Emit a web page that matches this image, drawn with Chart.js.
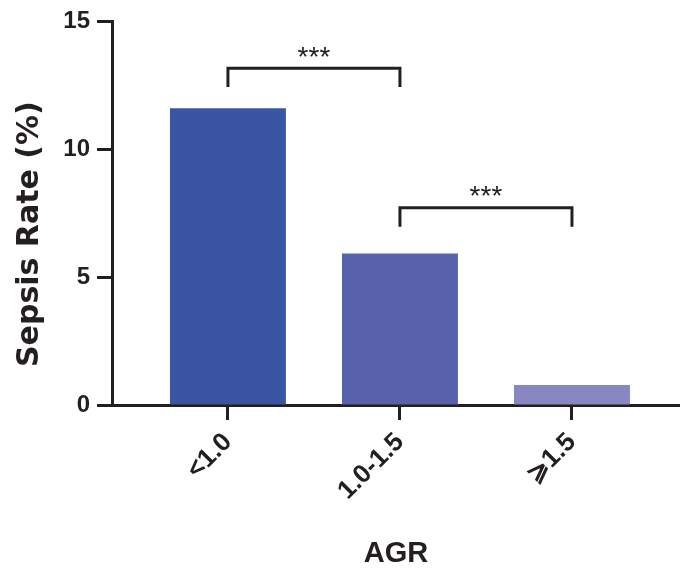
<!DOCTYPE html>
<html>
<head>
<meta charset="utf-8">
<script src="https://cdn.jsdelivr.net/npm/chart.js@4"></script>
<style>
  html, body { margin: 0; padding: 0; background: #ffffff; }
  #wrap { width: 680px; height: 571px; position: relative; }
</style>
</head>
<body>
<div id="wrap"><canvas id="c"></canvas></div>
<script>
// ---- data ----
const categories = ['<1.0', '1.0-1.5', '\u2A7E1.5'];
const sepsisRate = [11.6, 5.92, 0.78];
const barColors = ['#3A55A4', '#5861AB', '#8987C1'];
const yTicks = [0, 5, 10, 15];
const sigPairs = [[0, 1], [1, 2]];
const sigLabels = ['***', '***'];
const bracketTop = [13.17, 7.71];
const bracketLeg = [12.43, 6.97];
const starLevel = [13.71, 8.26];

const INK = '#231f20';
const FONT = "'Liberation Sans', Arial, Helvetica, sans-serif";

const barData = sepsisRate.map((v, i) => ({ x: i, y: v }));
const bracketSets = sigPairs.map((p, k) => ({
  type: 'line',
  data: [
    { x: p[0], y: bracketLeg[k] },
    { x: p[0], y: bracketTop[k] },
    { x: p[1], y: bracketTop[k] },
    { x: p[1], y: bracketLeg[k] }
  ],
  borderColor: INK,
  borderWidth: 3,
  pointRadius: 0,
  tension: 0,
  fill: false,
  borderCapStyle: 'butt',
  borderJoinStyle: 'miter'
}));

const starPlugin = {
  id: 'stars',
  afterDatasetsDraw(chart) {
    const { ctx, scales } = chart;
    const size = 28;
    ctx.save();
    ctx.fillStyle = INK;
    ctx.font = `${size}px ${FONT}`;
    ctx.textAlign = 'center';
    ctx.textBaseline = 'alphabetic';
    sigPairs.forEach((p, k) => {
      const x = scales.x.getPixelForValue((p[0] + p[1]) / 2);
      const y = scales.y.getPixelForValue(starLevel[k]) + 0.40 * size;
      ctx.fillText(sigLabels[k], x, y);
    });
    ctx.restore();
  }
};

new Chart(document.getElementById('c'), {
  type: 'bar',
  data: {
    datasets: [
      {
        type: 'bar',
        data: barData,
        backgroundColor: barColors,
        borderWidth: 0,
        barPercentage: 0.674,
        categoryPercentage: 1.0
      },
      ...bracketSets
    ]
  },
  options: {
    responsive: true,
    maintainAspectRatio: false,
    animation: false,
    devicePixelRatio: 1,
    layout: { padding: { top: 20, right: 0, left: 0, bottom: 0 } },
    plugins: { legend: { display: false }, tooltip: { enabled: false } },
    scales: {
      x: {
        type: 'linear',
        offset: false,
        min: -0.674,
        max: 2.628,
        afterBuildTicks(scale) {
          scale.ticks = categories.map((c, i) => ({ value: i }));
        },
        afterFit(scale) { scale.height = 166; },
        ticks: {
          autoSkip: false,
          maxRotation: 45,
          minRotation: 45,
          padding: 7,
          color: INK,
          font: { family: FONT, size: 26, weight: 'bold' },
          callback: (v) => categories[v]
        },
        grid: {
          display: true,
          offset: false,
          drawOnChartArea: false,
          drawTicks: true,
          tickLength: 15,
          tickWidth: 3,
          tickColor: INK
        },
        border: { display: true, color: INK, width: 3 },
        title: {
          display: true,
          text: 'AGR',
          color: INK,
          font: { family: FONT, size: 29, weight: 'bold' },
          padding: { top: 0, bottom: 0 }
        }
      },
      y: {
        min: 0,
        max: 15,
        afterBuildTicks(scale) {
          scale.ticks = yTicks.map(v => ({ value: v }));
        },
        afterFit(scale) { scale.width = 112; },
        ticks: {
          padding: 7,
          color: INK,
          font: { family: FONT, size: 24, weight: 'bold' }
        },
        grid: {
          display: true,
          drawOnChartArea: false,
          drawTicks: true,
          tickLength: 15,
          tickWidth: 3,
          tickColor: INK
        },
        border: { display: true, color: INK, width: 3 },
        title: {
          display: true,
          text: 'Sepsis Rate (%)    ',
          color: INK,
          font: { family: "'DejaVu Sans', 'Liberation Sans', sans-serif", size: 30, weight: 'bold' },
          padding: { top: 12, bottom: 0 }
        }
      }
    }
  },
  plugins: [starPlugin]
});
</script>
</body>
</html>
